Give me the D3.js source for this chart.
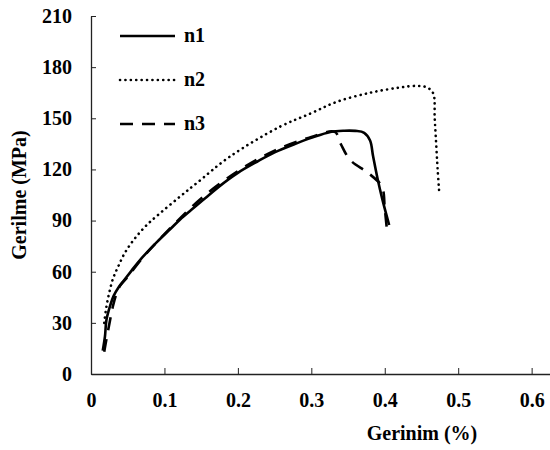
<!DOCTYPE html>
<html>
<head>
<meta charset="utf-8">
<script src="https://cdn.jsdelivr.net/npm/d3@7"></script>
<style>
  body { margin: 0; background: #fff; }
  svg text { font-family: 'Liberation Serif', 'Times New Roman', Times, 'DejaVu Serif', serif !important; font-weight: 700; }
</style>
</head>
<body>
<div id="container"></div>
<script>
/* DATA */
const n1X = [0.016,0.019,0.021,0.026,0.031,0.037,0.045,0.055,0.067,0.09,0.108,0.121,0.14,0.158,0.176,0.2,0.226,0.25,0.28,0.3,0.326,0.345,0.36,0.372,0.38,0.384,0.39,0.397,0.406]
const n1Y = [13.7,22,31.7,40,46,50.5,55,60.5,67,77.5,85,90.5,97.5,104,110.5,118,124.5,130,135.3,138.5,142,142.7,142.6,141.5,137,128,115,102,87.4]

const n2X = [0.018,0.021,0.025,0.03,0.037,0.046,0.058,0.075,0.094,0.121,0.144,0.189,0.257,0.3,0.335,0.38,0.42,0.444,0.458,0.466,0.468,0.47,0.472,0.474]
const n2Y = [30,39.5,48,56,63,71,78.6,87,94.3,104,112,127.5,145,153,159.7,165,168,169,168,164.6,150,135,120,107.5]

const n3X = [0.018,0.02,0.026,0.03,0.035,0.04,0.05,0.07,0.1,0.15,0.2,0.25,0.3,0.332,0.34,0.353,0.378,0.396,0.4,0.403]
const n3Y = [13,18,31.7,40,47.5,52,57,68,82,103,119,131,139,142,135,125.5,117.7,110,97,84.5]

const xTicks = [0, 0.1, 0.2, 0.3, 0.4, 0.5, 0.6]
const yTicks = [0, 30, 60, 90, 120, 150, 180, 210]
const seriesNames = ["n1", "n2", "n3"]

/* CONSTANTS */
const width = 550, height = 450
const margin = { top: 16, bottom: 76, left: 91, right: 0 }
const fontFamily = "'Liberation Serif', 'Times New Roman', serif"

const x = d3.scaleLinear().domain([0, 0.625]).range([margin.left, width - margin.right])
const y = d3.scaleLinear().domain([0, 210]).range([height - margin.bottom, margin.top])

const svg = d3.select("#container")
  .append("svg")
  .attr("width", width)
  .attr("height", height)
  .attr("font-family", fontFamily)

// axes, ticks point inward
const xAxis = svg.append("g")
  .attr("transform", `translate(0, ${y(0)})`)
  .call(d3.axisBottom(x).tickValues(xTicks).tickSizeInner(-6).tickSizeOuter(0)
    .tickFormat(d => d === 0 ? "0" : d3.format(".1f")(d)))
xAxis.attr("font-family", fontFamily).attr("font-size", 20)
xAxis.select(".domain").attr("stroke", "#222").attr("stroke-width", 1.3)
xAxis.selectAll(".tick line").attr("stroke", "#222")
xAxis.selectAll(".tick text")
  .attr("y", 19)
  .attr("fill", "#000")

const yAxis = svg.append("g")
  .attr("transform", `translate(${x(0)}, 0)`)
  .call(d3.axisLeft(y).tickValues(yTicks).tickSizeInner(-5).tickSizeOuter(0))
yAxis.attr("font-family", fontFamily).attr("font-size", 20)
yAxis.select(".domain").attr("stroke", "#222").attr("stroke-width", 1.3)
yAxis.selectAll(".tick line").attr("stroke", "#222")
yAxis.selectAll(".tick text")
  .attr("x", -19)
  .attr("fill", "#000")

// axis titles
svg.append("text")
  .attr("x", 422)
  .attr("y", 440)
  .attr("text-anchor", "middle")
  .attr("font-size", "20px")
  .text("Gerinim  (%)")

svg.append("text")
  .attr("transform", "translate(26, 195) rotate(-90)")
  .attr("text-anchor", "middle")
  .attr("font-size", "20px")
  .text("Gerilme (MPa)")

// lines
const styles = {
  n1: { dash: null, width: 2.6, cap: "butt" },
  n2: { dash: "0.1,5.3", width: 2.6, cap: "round" },
  n3: { dash: "13,9", width: 2.6, cap: "butt" }
}

const series = [
  { name: "n1", pts: n1X.map((v, i) => [v, n1Y[i]]) },
  { name: "n2", pts: n2X.map((v, i) => [v, n2Y[i]]) },
  { name: "n3", pts: n3X.map((v, i) => [v, n3Y[i]]) }
]

const lineGen = d3.line()
  .x(d => x(d[0]))
  .y(d => y(d[1]))
  .curve(d3.curveCatmullRom.alpha(0.5))

svg.selectAll("path.series")
  .data(series)
  .join("path")
  .attr("class", "series")
  .attr("d", d => lineGen(d.pts))
  .attr("fill", "none")
  .attr("stroke", "#000")
  .attr("stroke-width", d => styles[d.name].width)
  .attr("stroke-linecap", d => styles[d.name].cap)
  .attr("stroke-dasharray", d => styles[d.name].dash)

// legend
const legend = svg.append("g")
seriesNames.forEach((name, i) => {
  const ly = 36 + i * 44
  legend.append("line")
    .attr("x1", 120).attr("x2", 175)
    .attr("y1", ly).attr("y2", ly)
    .attr("stroke", "#000")
    .attr("stroke-width", styles[name].width)
    .attr("stroke-linecap", styles[name].cap)
    .attr("stroke-dasharray", styles[name].dash)
  legend.append("text")
    .attr("x", 184)
    .attr("y", ly + 6)
    .attr("font-size", "20px")
    .text(name)
})
</script>
</body>
</html>
